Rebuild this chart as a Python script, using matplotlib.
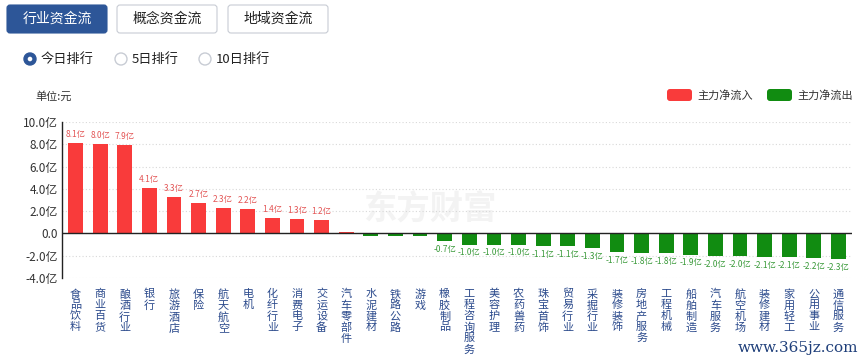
import numpy as np
import matplotlib
matplotlib.use("Agg")
import matplotlib.pyplot as plt
from matplotlib.patches import FancyBboxPatch, Circle

plt.rcParams['font.family'] = ['Noto Sans CJK SC', 'DejaVu Sans']

industries = ['食品饮料', '商业百货', '酿酒行业', '银行', '旅游酒店', '保险', '航天航空', '电机',
              '化纤行业', '消费电子', '交运设备', '汽车零部件', '水泥建材', '铁路公路', '游戏',
              '橡胶制品', '工程咨询服务', '美容护理', '农药兽药', '珠宝首饰', '贸易行业', '采掘行业',
              '装修装饰', '房地产服务', '工程机械', '船舶制造', '汽车服务', '航空机场', '装修建材',
              '家用轻工', '公用事业', '通信服务']
net_flow = [8.1, 8.0, 7.9, 4.1, 3.3, 2.7, 2.3, 2.2, 1.4, 1.3, 1.2, 0.1, -0.2, -0.2, -0.2,
            -0.7, -1.0, -1.0, -1.0, -1.1, -1.1, -1.3, -1.7, -1.8, -1.8, -1.9, -2.0, -2.0,
            -2.1, -2.1, -2.2, -2.3]
yticks = [-4, -2, 0, 2, 4, 6, 8, 10]

W, H = 868, 363
fig = plt.figure(figsize=(W / 100, H / 100), dpi=100)

red = '#f93b3b'
green = '#118c11'
navy = '#2d5698'

# overlay in pixel coordinates for the page furniture
bg = fig.add_axes([0, 0, 1, 1], zorder=0)
bg.set_xlim(0, W)
bg.set_ylim(H, 0)
bg.axis('off')

buttons = [('行业资金流', 7, True), ('概念资金流', 117, False), ('地域资金流', 228, False)]
for label, x0, active in buttons:
    bg.add_patch(FancyBboxPatch((x0, 5), 100, 28, boxstyle="round,pad=0,rounding_size=3",
                                facecolor=navy if active else 'white',
                                edgecolor=navy if active else '#c8ccd4', lw=0.8))
    bg.text(x0 + 50, 19, label, ha='center', va='center', fontsize=10,
            color='white' if active else '#222222')

radios = [('今日排行', 30, True), ('5日排行', 121, False), ('10日排行', 205, False)]
for label, cx, on in radios:
    bg.add_patch(Circle((cx, 59), 6, facecolor=navy if on else 'white',
                        edgecolor=navy if on else '#c8ccd4', lw=1))
    if on:
        bg.add_patch(Circle((cx, 59), 2.3, facecolor='white', edgecolor='none'))
    bg.text(cx + 11, 59, label, ha='left', va='center', fontsize=9.5, color='#222222')

bg.text(35, 96, '单位:元', ha='left', va='center', fontsize=8, color='#333333')

for label, x0, c in [('主力净流入', 667, red), ('主力净流出', 767, green)]:
    bg.add_patch(FancyBboxPatch((x0, 89), 25, 12, boxstyle="round,pad=0,rounding_size=3",
                                facecolor=c, edgecolor='none'))
    bg.text(x0 + 30, 95, label, ha='left', va='center', fontsize=8, color='#333333')

bg.text(430, 210, '东方财富', ha='center', va='center', fontsize=24,
        color='#f3f3f3', fontweight='bold')
bg.text(858, 348, 'www.365jz.com', ha='right', va='center', fontsize=11,
        color='#1f3f7a', family='DejaVu Serif')

# chart
ax = fig.add_axes([62 / W, 1 - 278 / H, 790 / W, (278 - 122) / H], zorder=1)
ax.patch.set_alpha(0)
x = np.arange(len(industries))
colors = [red if v >= 0 else green for v in net_flow]
ax.bar(x, net_flow, width=0.6, color=colors, zorder=3)

for xi, v in zip(x, net_flow):
    if abs(v) < 0.5:
        continue
    if v > 0:
        ax.text(xi, v + 0.35, f'{v:.1f}亿', ha='center', va='bottom', fontsize=6, color='#e35555')
    else:
        ax.text(xi, v - 0.35, f'{v:.1f}亿', ha='center', va='top', fontsize=6, color='#3a9a3a')

ax.set_xlim(-0.55, 31.55)
ax.set_ylim(-4, 10)
ax.set_yticks(yticks)
ax.set_yticklabels(['0.0' if t == 0 else f'{t:.1f}亿' for t in yticks], fontsize=8.5, color='#333333')
ax.set_xticks(x)
ax.set_xticklabels(['\n'.join(s) for s in industries], fontsize=8, color='#2b4a8c',
                   linespacing=1.1, va='top')
ax.tick_params(axis='x', length=0, pad=8)
ax.tick_params(axis='y', length=0, pad=3)
for s in ['top', 'right', 'bottom']:
    ax.spines[s].set_visible(False)
ax.spines['left'].set_color('#222222')
ax.spines['left'].set_linewidth(1)
ax.grid(axis='y', linestyle=(0, (1, 2)), color='#d8d8d8', lw=0.8, zorder=0)
ax.axhline(0, color='#222222', lw=1, zorder=4)

fig.savefig('out.png', dpi=100)
